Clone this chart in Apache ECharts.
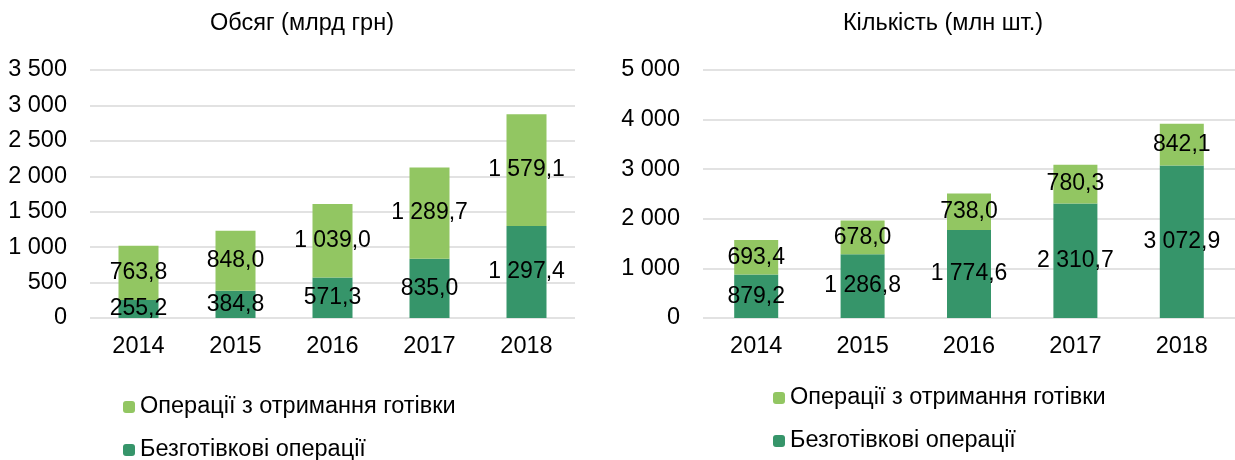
<!DOCTYPE html>
<html>
<head>
<meta charset="utf-8">
<script src="https://cdn.jsdelivr.net/npm/echarts@6/dist/echarts.min.js"></script>
<style>
  html,body{margin:0;padding:0;background:#fff;}
  #main{width:1235px;height:460px;}
</style>
</head>
<body>
<div id="main"></div>
<script>
var years = ['2014', '2015', '2016', '2017', '2018'];
var volCash = [763.8, 848.0, 1039.0, 1289.7, 1579.1];
var volCashless = [255.2, 384.8, 571.3, 835.0, 1297.4];
var cntCash = [693.4, 678.0, 738.0, 780.3, 842.1];
var cntCashless = [879.2, 1286.8, 1774.6, 2310.7, 3072.9];
var nameCash = 'Операції з отримання готівки';
var nameCashless = 'Безготівкові операції';

var lightGreen = '#92C662';
var darkGreen = '#36956A';
var font = 'Liberation Sans, Arial, sans-serif';
var fs = 23.5;

function fmt(v, dec) {
  var s = v.toFixed(dec);
  var parts = s.split('.');
  var intPart = parts[0].replace(/\B(?=(\d{3})+(?!\d))/g, ' ');
  return parts.length > 1 ? intPart + ',' + parts[1] : intPart;
}

function yAxis(idx, max, step) {
  return {
    gridIndex: idx,
    type: 'value',
    min: 0,
    max: max,
    interval: step,
    axisLine: { show: false },
    axisTick: { show: false },
    axisLabel: {
      color: '#000', fontSize: fs, fontFamily: font, margin: 23,
      formatter: function (v) { return fmt(v, 0); }
    },
    splitLine: { lineStyle: { color: '#d9d9d9', width: 1.5 } }
  };
}

function xAxis(idx) {
  return {
    gridIndex: idx,
    type: 'category',
    data: years,
    axisLine: { show: false },
    axisTick: { show: false },
    axisLabel: { color: '#000', fontSize: fs, fontFamily: font, margin: 17 }
  };
}

function bar(name, data, idx, color, width) {
  return {
    name: name,
    type: 'bar',
    stack: 'g' + idx,
    xAxisIndex: idx,
    yAxisIndex: idx,
    data: data,
    barWidth: width,
    itemStyle: { color: color },
    label: {
      show: true,
      position: 'inside',
      color: '#000',
      fontSize: 23,
      fontFamily: font,
      formatter: function (p) { return fmt(p.value, 1); }
    }
  };
}

function legendItem(name, left, top) {
  return {
    orient: 'vertical', left: left, top: top,
    itemWidth: 12, itemHeight: 12,
    data: [name],
    textStyle: { fontSize: fs, color: '#000', fontFamily: font }
  };
}

var chart = echarts.init(document.getElementById('main'));
chart.setOption({
  animation: false,
  textStyle: { fontFamily: font },
  title: [
    { text: 'Обсяг (млрд грн)', left: 297, top: 7, textAlign: 'center',
      textStyle: { fontSize: fs, fontWeight: 'normal', color: '#000', fontFamily: font } },
    { text: 'Кількість (млн шт.)', left: 938, top: 7, textAlign: 'center',
      textStyle: { fontSize: fs, fontWeight: 'normal', color: '#000', fontFamily: font } }
  ],
  legend: [
    legendItem(nameCash, 118, 390),
    legendItem(nameCashless, 118, 433),
    legendItem(nameCash, 768, 381),
    legendItem(nameCashless, 768, 424)
  ],
  grid: [
    { left: 90, right: 660, top: 70, bottom: 142 },
    { left: 703, right: -2, top: 70, bottom: 142 }
  ],
  xAxis: [xAxis(0), xAxis(1)],
  yAxis: [yAxis(0, 3500, 500), yAxis(1, 5000, 1000)],
  series: [
    bar(nameCashless, volCashless, 0, darkGreen, 40),
    bar(nameCash, volCash, 0, lightGreen, 40),
    bar(nameCashless, cntCashless, 1, darkGreen, 44),
    bar(nameCash, cntCash, 1, lightGreen, 44)
  ]
});
</script>
</body>
</html>
